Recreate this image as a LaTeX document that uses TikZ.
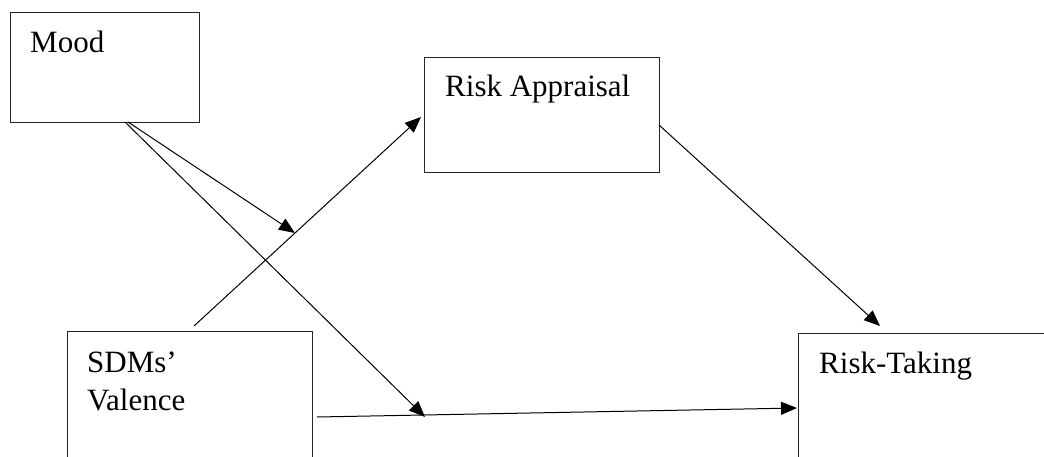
\documentclass[tikz,border=0pt]{standalone}
\usepackage{fontspec}
\setmainfont{Liberation Serif}
\usetikzlibrary{arrows.meta}
\begin{document}
\begin{tikzpicture}[x=1pt,y=-1pt,
  box/.style={draw=black!85,line width=1.2pt,anchor=north west,inner sep=0pt},
  lbl/.style={anchor=base west,inner sep=0pt,font=\fontsize{31}{38}\selectfont},
  conn/.style={line width=1pt,-{Triangle[length=16pt,width=13pt]}},
  plain/.style={line width=1pt}]
\clip (0,0) rectangle (1044,457);
\fill[white] (0,0) rectangle (1044,457);
% boxes
\node[box,minimum width=189pt,minimum height=110pt] (mood) at (10,12) {};
\node[box,minimum width=235pt,minimum height=115pt] (ra) at (424,57) {};
\node[box,minimum width=245pt,minimum height=160pt] (sdm) at (67,331) {};
\node[box,minimum width=300pt,minimum height=160pt] (rt) at (798,333) {};
% labels
\node[lbl] (tmood) at (30,53) {Mood};
\node[lbl] (tra) at (445,97) {Risk Appraisal};
\node[lbl] (tsdm1) at (87,372) {SDMs’};
\node[lbl] (tsdm2) at (87,410) {Valence};
\node[lbl] (trt) at (819,373) {Risk-Taking};
% connector anchors
\coordinate (m1) at (125,122);
\coordinate (m2) at (128,122);
\coordinate (s1) at (194,326);
\coordinate (r1) at (421,117);
\coordinate (t1) at (295,233);
\coordinate (r2) at (659,125);
\coordinate (rt1) at (880,326);
\coordinate (s2) at (317,417);
\coordinate (rt2) at (797,408);
\coordinate (t2) at (425,417);
% connectors
\draw[conn] (s1) -- (r1);
\draw[conn] (m2) -- (t1);
\draw[conn] (m1) -- (t2);
\draw[conn] (r2) -- (rt1);
\draw[conn] (s2) -- (rt2);
\end{tikzpicture}
\end{document}
